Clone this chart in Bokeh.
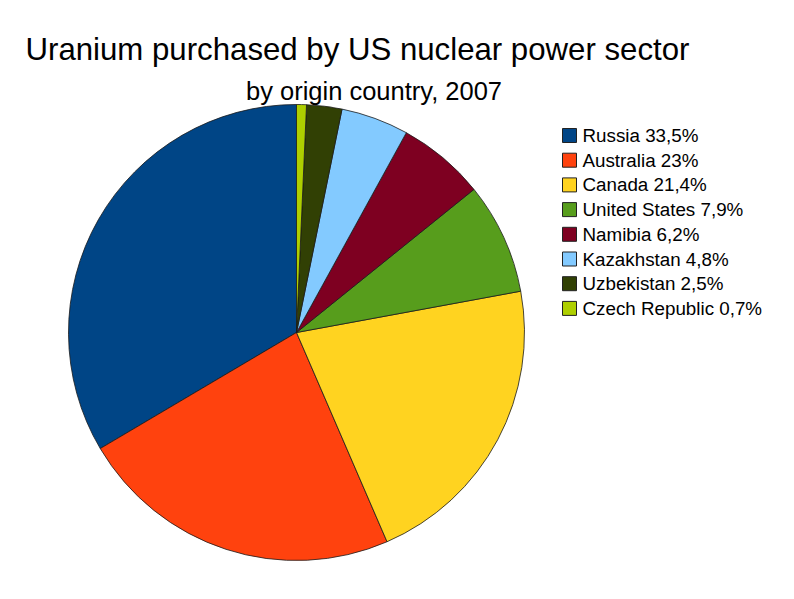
import numpy as np
from bokeh.plotting import figure
from bokeh.models import Range1d, ColumnDataSource
from bokeh.core.properties import value
from bokeh.embed import file_html
from bokeh.resources import INLINE

countries = ["Russia", "Australia", "Canada", "United States", "Namibia",
             "Kazakhstan", "Uzbekistan", "Czech Republic"]
shares = [33.5, 23.0, 21.4, 7.9, 6.2, 4.8, 2.5, 0.7]
share_labels = ["33,5%", "23%", "21,4%", "7,9%", "6,2%", "4,8%", "2,5%", "0,7%"]
colors = ["#004586", "#ff420e", "#ffd320", "#579d1c", "#7e0021",
          "#83caff", "#314004", "#aecf00"]

W, H = 786, 591
CX, CY, R = 296, H - 332, 228

vals = np.array(shares)
cum = np.cumsum(vals) / vals.sum()
prev = np.concatenate([[0.0], cum[:-1]])
start = np.pi / 2 + 2 * np.pi * prev
end = np.pi / 2 + 2 * np.pi * cum

src = ColumnDataSource(dict(start=start, end=end, color=colors,
                            country=countries))

p = figure(width=W, height=H, x_range=Range1d(0, W), y_range=Range1d(0, H),
           output_backend="svg", toolbar_location=None,
           x_axis_type=None, y_axis_type=None, min_border=0)
p.grid.visible = False
p.outline_line_color = None
p.background_fill_color = "white"
p.border_fill_color = "white"

p.wedge(x=CX, y=CY, radius=R, start_angle="start", end_angle="end",
        fill_color="color", line_color="#1a1a1a", line_width=0.8, source=src)

# Titles
p.text(x=[25], y=[H - 49], text=["Uranium purchased by US nuclear power sector"],
       text_font=value("Liberation Sans"), text_font_size="31.2px",
       text_color="#000000", text_baseline="alphabetic", text_align="left")
p.text(x=[373.5], y=[H - 90], text=["by origin country, 2007"],
       text_font=value("Liberation Sans"), text_font_size="25.5px",
       text_color="#000000", text_baseline="alphabetic", text_align="center")

# Legend
ly = [H - (135 + 24.7 * i) for i in range(len(countries))]
labels = [f"{c} {s}" for c, s in zip(countries, share_labels)]
lsrc = ColumnDataSource(dict(y=ly, color=colors, label=labels))
p.rect(x=569, y="y", width=14, height=14, fill_color="color",
       line_color="#222222", line_width=1, source=lsrc)
p.text(x=582, y="y", text="label", text_font=value("Liberation Sans"),
       text_font_size="18.8px", text_color="#000000", text_baseline="middle",
       text_align="left", source=lsrc)

open("out.html", "w").write(file_html(p, INLINE))
